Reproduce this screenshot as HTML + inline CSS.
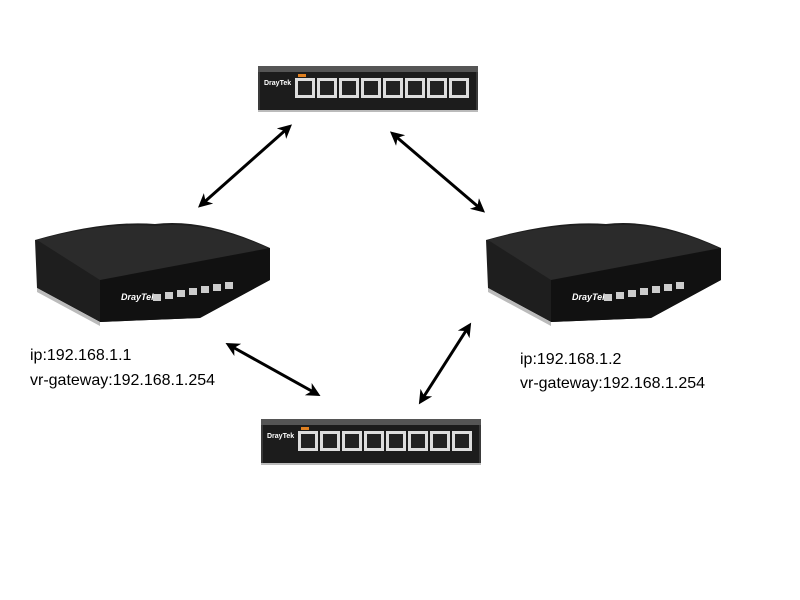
<!DOCTYPE html>
<html><head><meta charset="utf-8"><style>
html,body{margin:0;padding:0;background:#fff;}
svg{display:block;}
text{font-family:"Liberation Sans",sans-serif;font-size:16px;fill:#000;}
</style></head><body>
<svg width="800" height="600" viewBox="0 0 800 600" xmlns="http://www.w3.org/2000/svg">
<defs>
<marker id="a" markerWidth="14" markerHeight="14" refX="10" refY="7" orient="auto-start-reverse" markerUnits="userSpaceOnUse">
<path d="M0,0 L14,7 L0,14 L4,7 Z" fill="#000"/></marker>
<g id="sw">
<rect x="0" y="0" width="220" height="46" fill="#3a3a3a"/>
<rect x="0" y="0" width="220" height="6" fill="#555"/>
<rect x="2" y="6" width="216" height="38" fill="#1c1c1c"/>
<text x="6" y="19" style="font-size:7px;font-weight:bold;fill:#fff">DrayTek</text>
<rect x="40" y="8" width="8" height="3" fill="#e08020"/>
<g fill="#ddd">
<rect x="37" y="12" width="20" height="20"/><rect x="59" y="12" width="20" height="20"/>
<rect x="81" y="12" width="20" height="20"/><rect x="103" y="12" width="20" height="20"/>
<rect x="125" y="12" width="20" height="20"/><rect x="147" y="12" width="20" height="20"/>
<rect x="169" y="12" width="20" height="20"/><rect x="191" y="12" width="20" height="20"/>
</g>
<g fill="#222">
<rect x="40" y="15" width="14" height="14"/><rect x="62" y="15" width="14" height="14"/>
<rect x="84" y="15" width="14" height="14"/><rect x="106" y="15" width="14" height="14"/>
<rect x="128" y="15" width="14" height="14"/><rect x="150" y="15" width="14" height="14"/>
<rect x="172" y="15" width="14" height="14"/><rect x="194" y="15" width="14" height="14"/>
</g>
<rect x="0" y="44" width="220" height="2" fill="#bbb"/>
</g>
<g id="rt">
<path d="M10,22 Q80,2 130,6 Q180,0 245,30 L245,62 L175,100 L75,104 L12,70 Z" fill="#1e1e1e"/>
<path d="M12,22 Q80,4 130,8 Q180,2 243,30 L175,58 L75,62 Z" fill="#2b2b2b"/>
<path d="M75,62 L245,30 L245,62 L175,100 L75,104 Z" fill="#111"/>
<path d="M12,70 L75,104 L75,108 L12,74 Z" fill="#bbb"/>
<text x="96" y="82" style="font-size:9px;font-weight:bold;font-style:italic;fill:#fff">DrayTek</text>
<g fill="#ccc"><rect x="128" y="76" width="8" height="7"/><rect x="140" y="74" width="8" height="7"/><rect x="152" y="72" width="8" height="7"/><rect x="164" y="70" width="8" height="7"/><rect x="176" y="68" width="8" height="7"/><rect x="188" y="66" width="8" height="7"/><rect x="200" y="64" width="8" height="7"/></g>
</g>
</defs>
<use href="#sw" x="258" y="66"/>
<use href="#sw" x="261" y="419"/>
<use href="#rt" x="25" y="218"/>
<use href="#rt" x="476" y="218"/>
<g stroke="#000" stroke-width="3" marker-start="url(#a)" marker-end="url(#a)">
<line x1="201" y1="205" x2="289" y2="127"/>
<line x1="393" y1="134" x2="482" y2="210"/>
<line x1="229" y1="345" x2="317" y2="394"/>
<line x1="421" y1="401" x2="469" y2="326"/>
</g>
<text x="30" y="360">ip:192.168.1.1</text>
<text x="30" y="385">vr-gateway:192.168.1.254</text>
<text x="520" y="364">ip:192.168.1.2</text>
<text x="520" y="388">vr-gateway:192.168.1.254</text>
</svg>
</body></html>
